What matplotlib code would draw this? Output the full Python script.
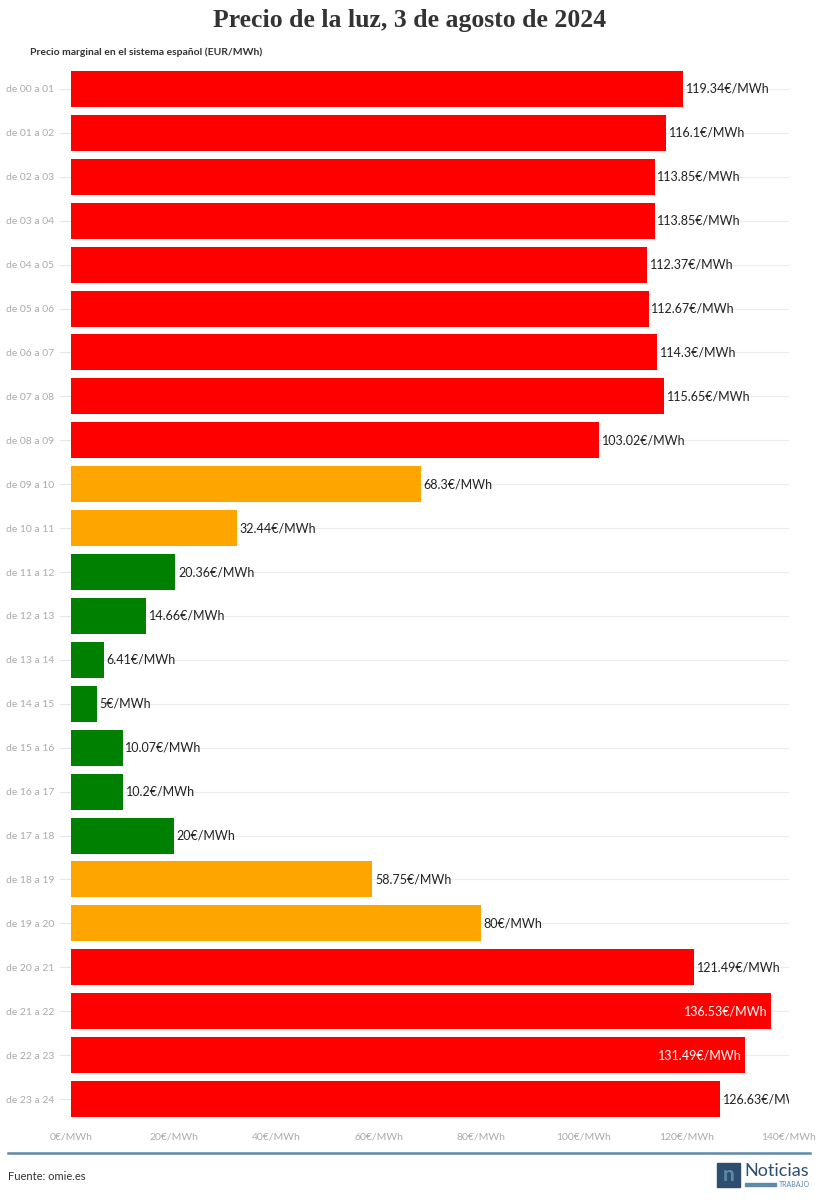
import matplotlib.pyplot as plt
from matplotlib.patches import Rectangle

horas = ['de 00 a 01', 'de 01 a 02', 'de 02 a 03', 'de 03 a 04', 'de 04 a 05',
         'de 05 a 06', 'de 06 a 07', 'de 07 a 08', 'de 08 a 09', 'de 09 a 10',
         'de 10 a 11', 'de 11 a 12', 'de 12 a 13', 'de 13 a 14', 'de 14 a 15',
         'de 15 a 16', 'de 16 a 17', 'de 17 a 18', 'de 18 a 19', 'de 19 a 20',
         'de 20 a 21', 'de 21 a 22', 'de 22 a 23', 'de 23 a 24']
precios = [119.34, 116.1, 113.85, 113.85, 112.37, 112.67, 114.3, 115.65, 103.02,
           68.3, 32.44, 20.36, 14.66, 6.41, 5, 10.07, 10.2, 20, 58.75, 80,
           121.49, 136.53, 131.49, 126.63]
etiquetas = ['119.34', '116.1', '113.85', '113.85', '112.37', '112.67', '114.3',
             '115.65', '103.02', '68.3', '32.44', '20.36', '14.66', '6.41', '5',
             '10.07', '10.2', '20', '58.75', '80', '121.49', '136.53', '131.49',
             '126.63']
ticks_x = [0, 20, 40, 60, 80, 100, 120, 140]

ROJO, NARANJA, VERDE = '#ff0000', '#ffa500', '#008000'


def color_precio(p):
    if p >= 100:
        return ROJO
    if p > 21:
        return NARANJA
    return VERDE


plt.rcParams['font.family'] = ['Lato', 'DejaVu Sans']

fig = plt.figure(figsize=(8.19, 12), dpi=100)
ax = fig.add_axes([71 / 819, 1 - 1121 / 1200, 718 / 819, 1054 / 1200])

y = list(range(len(horas)))
colores = [color_precio(p) for p in precios]
ax.barh(y, precios, height=0.82, color=colores, zorder=2)

# etiquetas de valor (la última queda cortada por el borde, como en el original)
for i, (p, t) in enumerate(zip(precios, etiquetas)):
    txt = t + '€/MWh'
    if p > 130:
        ax.text(p - 0.8, i, txt, ha='right', va='center', color='white',
                fontsize=9, zorder=3, clip_on=True)
    else:
        ax.text(p + 0.5, i, txt, ha='left', va='center', color='#222222',
                fontsize=9, zorder=3, clip_on=True)

ax.set_xlim(0, 140)
ax.set_ylim(len(horas) - 0.5, -0.5)
ax.set_yticks(y)
ax.set_yticklabels(horas, fontsize=7.5, color='#aaaaaa')
ax.set_xticks(ticks_x)
ax.set_xticklabels([f'{v}€/MWh' for v in ticks_x], fontsize=7.5, color='#aaaaaa')
ax.tick_params(axis='y', length=9, color='#e6e6e6', pad=3)
ax.tick_params(axis='x', length=0, pad=8)
ax.grid(axis='y', color='#ececec', linewidth=0.8, zorder=0)
for s in ax.spines.values():
    s.set_visible(False)

fig.text(0.5, 1 - 21 / 1200, 'Precio de la luz, 3 de agosto de 2024', ha='center',
         va='center', fontsize=18.5, fontweight='bold',
         family=['Liberation Serif', 'DejaVu Serif'], color='#333333')
fig.text(30 / 819, 1 - 52 / 1200, 'Precio marginal en el sistema español (EUR/MWh)',
         ha='left', va='center', fontsize=7.5, fontweight='bold', color='#333333')

# pie
fig.add_artist(plt.Line2D([8 / 819, 810 / 819], [1 - 1153 / 1200] * 2,
                          color='#5c8aa8', linewidth=1.8, transform=fig.transFigure))
fig.text(8 / 819, 1 - 1177 / 1200, 'Fuente: omie.es', ha='left', va='center',
         fontsize=8, color='#333333')

# logo
fig.add_artist(Rectangle((717 / 819, 1 - 1187 / 1200), 23 / 819, 24 / 1200,
                         transform=fig.transFigure, color='#2f4d6e'))
fig.text(728.5 / 819, 1 - 1175 / 1200, 'n', ha='center', va='center', fontsize=15,
         color='#5c8aa8', fontweight='bold')
fig.text(744 / 819, 1 - 1171 / 1200, 'Noticias', ha='left', va='center',
         fontsize=13, color='#2f4d6e')
fig.add_artist(Rectangle((745 / 819, 1 - 1186 / 1200), 31 / 819, 3 / 1200,
                         transform=fig.transFigure, color='#5c8aa8'))
fig.text(810 / 819, 1 - 1184.5 / 1200, 'TRABAJO', ha='right', va='center',
         fontsize=5, color='#5c8aa8')

fig.savefig('out.png', dpi=100)
